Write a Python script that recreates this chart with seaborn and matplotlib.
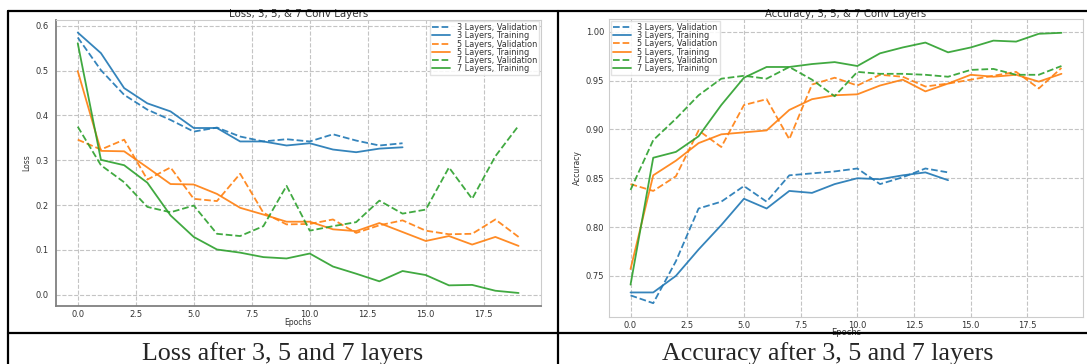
import matplotlib
matplotlib.use("Agg")
import matplotlib.pyplot as plt
import seaborn as sns
from matplotlib.lines import Line2D

epochs = list(range(20))
epochs_3 = epochs[:15]

# Loss
loss_3_val = [0.574, 0.501, 0.446, 0.413, 0.390, 0.364, 0.373, 0.353, 0.342, 0.347,
              0.342, 0.358, 0.344, 0.333, 0.338]
loss_3_train = [0.585, 0.539, 0.461, 0.427, 0.409, 0.372, 0.372, 0.342, 0.342, 0.333,
                0.338, 0.324, 0.318, 0.326, 0.329]
loss_5_val = [0.346, 0.324, 0.346, 0.257, 0.284, 0.214, 0.209, 0.270, 0.183, 0.157,
              0.158, 0.168, 0.138, 0.155, 0.166, 0.143, 0.135, 0.136, 0.168, 0.129]
loss_5_train = [0.499, 0.321, 0.320, 0.284, 0.247, 0.246, 0.225, 0.194, 0.179, 0.163,
                0.163, 0.146, 0.142, 0.160, 0.140, 0.120, 0.131, 0.112, 0.129, 0.109]
loss_7_val = [0.375, 0.289, 0.251, 0.196, 0.184, 0.199, 0.136, 0.131, 0.153, 0.243,
              0.143, 0.153, 0.162, 0.210, 0.181, 0.190, 0.284, 0.214, 0.309, 0.377]
loss_7_train = [0.561, 0.301, 0.289, 0.250, 0.177, 0.129, 0.101, 0.094, 0.084, 0.081,
                0.092, 0.063, 0.047, 0.030, 0.053, 0.044, 0.021, 0.022, 0.009, 0.004]

# Accuracy
acc_3_val = [0.730, 0.722, 0.765, 0.819, 0.826, 0.842, 0.826, 0.853, 0.855, 0.857,
             0.860, 0.844, 0.851, 0.860, 0.856]
acc_3_train = [0.733, 0.733, 0.750, 0.777, 0.802, 0.829, 0.819, 0.837, 0.835, 0.844,
               0.850, 0.849, 0.853, 0.856, 0.848]
acc_5_val = [0.844, 0.837, 0.852, 0.899, 0.882, 0.925, 0.931, 0.890, 0.946, 0.953,
             0.945, 0.956, 0.954, 0.944, 0.947, 0.951, 0.955, 0.959, 0.942, 0.963]
acc_5_train = [0.757, 0.853, 0.868, 0.886, 0.895, 0.897, 0.899, 0.920, 0.931, 0.935,
               0.936, 0.945, 0.951, 0.939, 0.947, 0.956, 0.954, 0.956, 0.949, 0.957]
acc_7_val = [0.838, 0.889, 0.911, 0.935, 0.952, 0.955, 0.952, 0.964, 0.951, 0.934,
             0.959, 0.957, 0.957, 0.956, 0.954, 0.961, 0.962, 0.956, 0.956, 0.965]
acc_7_train = [0.741, 0.871, 0.877, 0.893, 0.925, 0.953, 0.964, 0.964, 0.967, 0.969,
               0.965, 0.978, 0.984, 0.989, 0.979, 0.984, 0.991, 0.990, 0.998, 0.999]

captions = ["Loss after 3, 5 and 7 layers", "Accuracy after 3, 5 and 7 layers"]

sns.set_style("whitegrid", {"grid.linestyle": "--", "grid.color": "#c4c4c4",
                            "axes.edgecolor": "#cccccc"})
plt.rcParams["font.family"] = ["DejaVu Sans"]

fig = plt.figure(figsize=(10.87, 3.64), dpi=100)
W, H = 1087, 364


def box(l, t, r, b):
    return [l / W, 1 - b / H, (r - l) / W, (b - t) / H]


ax1 = fig.add_axes(box(55.7, 19.5, 540.6, 306))
ax2 = fig.add_axes(box(609, 19.3, 1083, 316.7))

blue, orange, green = "#1f77b4", "#ff7f0e", "#2ca02c"


def draw(ax, series):
    for x, y, lab, col, ls in series:
        sns.lineplot(x=x, y=y, ax=ax, label=lab, color=col, linestyle=ls,
                     linewidth=1.3, alpha=0.9)
    ax.set_xlim(-0.95, 19.95)
    ax.set_xticks([0, 2.5, 5, 7.5, 10, 12.5, 15, 17.5])
    ax.tick_params(axis="both", labelsize=6, length=2, color="#999999",
                   labelcolor="#333333", pad=1.5)
    ax.tick_params(axis="x", pad=0.8)
    ax.grid(True, linestyle="--", linewidth=0.8, color="#c4c4c4")


draw(ax1, [
    (epochs_3, loss_3_val, "3 Layers, Validation", blue, "--"),
    (epochs_3, loss_3_train, "3 Layers, Training", blue, "-"),
    (epochs, loss_5_val, "5 Layers, Validation", orange, "--"),
    (epochs, loss_5_train, "5 Layers, Training", orange, "-"),
    (epochs, loss_7_val, "7 Layers, Validation", green, "--"),
    (epochs, loss_7_train, "7 Layers, Training", green, "-"),
])
draw(ax2, [
    (epochs_3, acc_3_val, "3 Layers, Validation", blue, "--"),
    (epochs_3, acc_3_train, "3 Layers, Training", blue, "-"),
    (epochs, acc_5_val, "5 Layers, Validation", orange, "--"),
    (epochs, acc_5_train, "5 Layers, Training", orange, "-"),
    (epochs, acc_7_val, "7 Layers, Validation", green, "--"),
    (epochs, acc_7_train, "7 Layers, Training", green, "-"),
])

ax1.set_yticks([0.0, 0.1, 0.2, 0.3, 0.4, 0.5, 0.6])
ax2.set_yticks([0.75, 0.80, 0.85, 0.90, 0.95, 1.00])
ax1.tick_params(axis="y", pad=3)

for sp in ["left", "bottom"]:
    ax1.spines[sp].set_color("#808080")
    ax1.spines[sp].set_linewidth(1.3)

ax1.set_title("Loss, 3, 5, & 7 Conv Layers", fontsize=7.4, pad=1.5, color="#333333")
ax2.set_title("Accuracy, 3, 5, & 7 Conv Layers", fontsize=7.3, pad=1.5, color="#333333")
ax1.set_xlabel("Epochs", fontsize=5.5, labelpad=-0.5, color="#333333")
ax2.set_xlabel("Epochs", fontsize=6, labelpad=-1.5, color="#333333")
ax1.set_ylabel("Loss", fontsize=5.5, labelpad=3, color="#333333")
ax2.set_ylabel("Accuracy", fontsize=5.5, labelpad=3, color="#333333")

leg_kw = dict(fontsize=5.9, labelspacing=-0.1, borderpad=0.25, handlelength=2.2,
              handletextpad=0.8, borderaxespad=0.2, fancybox=False,
              edgecolor="#dddddd", framealpha=0.85)
l1 = ax1.legend(loc="upper right", **leg_kw)
l2 = ax2.legend(loc="upper left", **leg_kw)
for leg in (l1, l2):
    for t in leg.get_texts():
        t.set_color("#333333")

# table borders
lk = dict(color="black", linewidth=1.6, transform=fig.transFigure)
fig.add_artist(Line2D([8 / W, 1.0], [1 - 10.5 / H] * 2, **lk))
fig.add_artist(Line2D([8 / W, 1.0], [1 - 333 / H] * 2, **lk))
fig.add_artist(Line2D([8 / W] * 2, [0, 1 - 10.5 / H], **lk))
fig.add_artist(Line2D([557.5 / W] * 2, [0, 1 - 10.5 / H], **lk))

fig.text(283 / W, 1 - 360 / H, captions[0], ha="center", va="baseline",
         fontsize=18.7, family="Liberation Serif")
fig.text(828 / W, 1 - 360 / H, captions[1], ha="center", va="baseline",
         fontsize=18.7, family="Liberation Serif")

fig.savefig("out.png", dpi=100)
